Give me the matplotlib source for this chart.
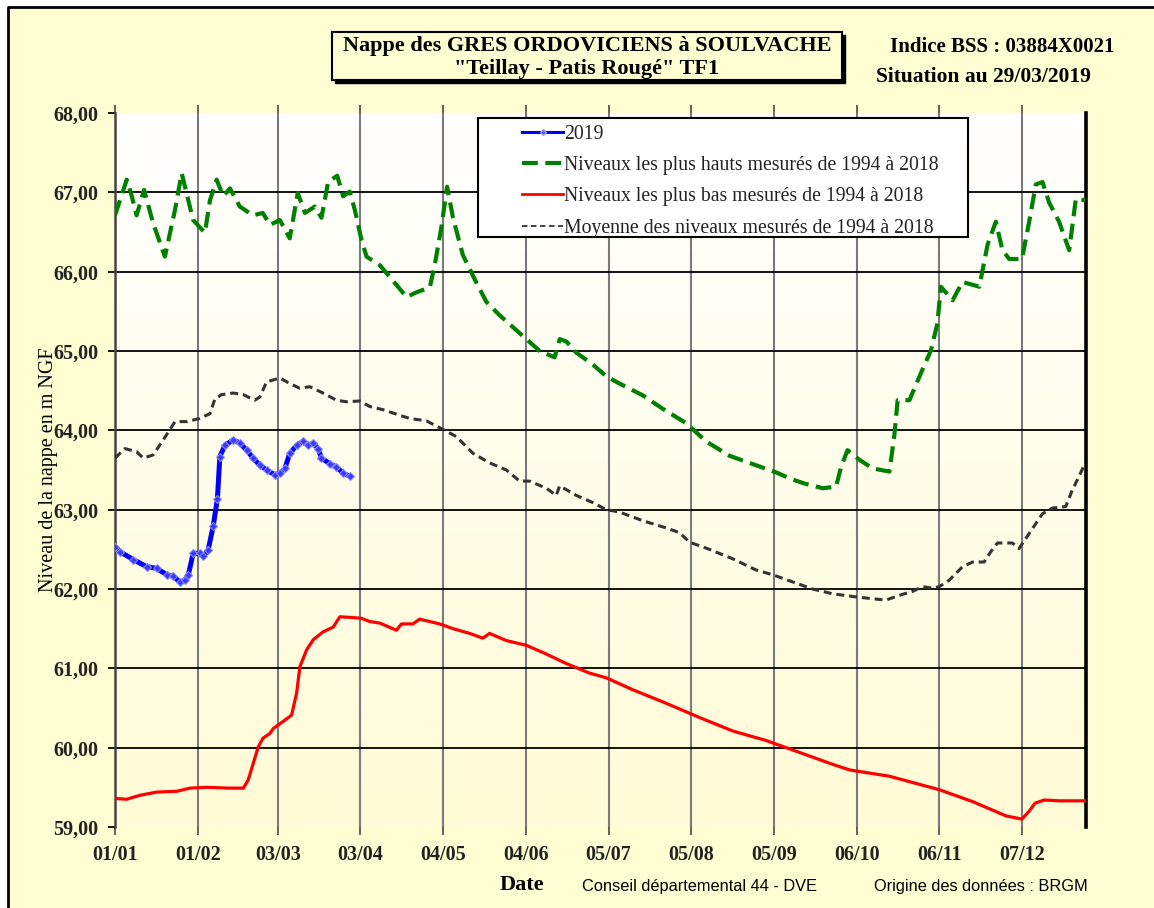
import numpy as np
import matplotlib.pyplot as plt
from matplotlib.patches import Rectangle
from matplotlib.colors import LinearSegmentedColormap
from matplotlib.lines import Line2D

# day of year (0 = 01/01) and groundwater level (m NGF)
green_day = [0.0, 4.4, 6.3, 8.1, 10.9, 14.3, 18.7, 22.5, 25.0, 29.3, 33.7, 35.6, 38.1, 40.6, 43.1,
             46.8, 51.7, 55.4, 58.1, 61.8, 65.5, 68.5, 71.2, 74.9, 77.4, 79.9, 83.3, 85.5, 88.0,
             89.9, 92.4, 94.3, 99.3, 104.1, 109.3, 113.0, 118.0, 119.9, 122.4, 124.5, 126.7,
             130.4, 135.5, 139.2, 144.2, 149.2, 154.2, 159.2, 164.8, 166.7, 169.2, 172.9, 179.1,
             184.2, 189.1, 197.9, 205.4, 214.1, 221.6, 230.3, 237.8, 247.8, 254.0, 258.4, 265.3,
             270.3, 272.2, 274.6, 279.0, 284.0, 290.3, 292.1, 293.4, 297.8, 302.1, 305.9, 308.3,
             309.6, 314.0, 317.7, 324.0, 327.1, 330.2, 332.7, 335.2, 340.0, 342.7, 345.2, 347.7,
             350.2, 353.9, 357.7, 360.2, 363.7]
green_val = [66.71, 67.16, 66.95, 66.71, 67.03, 66.61, 66.19, 66.78, 67.24, 66.65, 66.49, 66.90,
             67.16, 66.95, 67.05, 66.82, 66.71, 66.74, 66.59, 66.65, 66.42, 66.99, 66.74, 66.82,
             66.68, 67.13, 67.21, 66.95, 67.01, 66.78, 66.40, 66.19, 66.08, 65.89, 65.68, 65.74,
             65.80, 66.09, 66.57, 67.07, 66.68, 66.21, 65.86, 65.62, 65.45, 65.30, 65.15, 65.00,
             64.92, 65.15, 65.12, 64.98, 64.83, 64.68, 64.59, 64.44, 64.27, 64.09, 63.86, 63.68,
             63.59, 63.47, 63.38, 63.33, 63.27, 63.29, 63.54, 63.75, 63.63, 63.52, 63.48, 63.92,
             64.38, 64.38, 64.72, 65.01, 65.35, 65.81, 65.64, 65.87, 65.81, 66.34, 66.63, 66.27,
             66.16, 66.16, 66.63, 67.10, 67.13, 66.87, 66.63, 66.27, 66.92, 66.90]

mean_day = [0.0, 3.7, 8.1, 10.6, 14.3, 18.1, 22.5, 26.9, 31.8, 35.6, 37.5, 40.0, 44.3, 48.1, 52.4,
            54.3, 56.8, 61.8, 65.5, 69.3, 73.0, 78.0, 83.0, 86.8, 91.8, 95.5, 100.5, 106.7, 110.5,
            116.7, 123.6, 128.0, 134.2, 140.4, 146.7, 151.7, 155.4, 161.7, 165.4, 166.7, 172.9,
            179.1, 184.2, 189.1, 197.9, 206.6, 211.6, 215.4, 222.8, 231.6, 240.3, 246.5, 254.0,
            261.5, 269.0, 277.8, 283.4, 289.0, 294.0, 299.0, 302.7, 306.5, 309.0, 312.7, 317.7,
            321.5, 325.8, 328.3, 330.8, 336.4, 338.9, 342.7, 347.7, 351.4, 356.4, 358.9, 361.4, 363.3]
mean_val = [63.65, 63.77, 63.73, 63.65, 63.69, 63.88, 64.11, 64.11, 64.15, 64.21, 64.40, 64.45,
            64.47, 64.45, 64.38, 64.42, 64.61, 64.66, 64.59, 64.53, 64.55, 64.47, 64.38, 64.36,
            64.37, 64.30, 64.26, 64.19, 64.15, 64.12, 64.00, 63.92, 63.71, 63.59, 63.50, 63.36,
            63.36, 63.27, 63.18, 63.30, 63.18, 63.09, 63.00, 62.97, 62.86, 62.77, 62.71, 62.59,
            62.50, 62.38, 62.24, 62.18, 62.09, 62.00, 61.94, 61.90, 61.88, 61.86, 61.92, 61.97,
            62.03, 62.01, 62.03, 62.11, 62.28, 62.34, 62.34, 62.47, 62.58, 62.58, 62.51, 62.70,
            62.95, 63.02, 63.04, 63.25, 63.42, 63.56]

red_day = [0.0, 4.4, 9.4, 15.6, 23.1, 28.1, 34.3, 43.1, 48.1, 49.9, 51.8, 53.7, 55.5, 58.1, 59.3,
           63.0, 66.2, 68.1, 69.3, 71.8, 74.3, 78.0, 81.8, 84.3, 89.3, 92.4, 95.5, 99.3, 105.5,
           107.4, 111.7, 114.2, 121.7, 126.7, 133.0, 137.9, 140.4, 146.7, 154.2, 161.7, 169.2,
           177.9, 184.2, 194.1, 206.6, 219.1, 231.6, 244.1, 256.6, 269.0, 275.3, 290.3, 309.0,
           321.5, 334.0, 340.0, 342.7, 344.9, 348.3, 353.9, 363.7]
red_val = [59.36, 59.35, 59.40, 59.44, 59.45, 59.49, 59.50, 59.49, 59.49, 59.59, 59.80, 60.01,
           60.12, 60.18, 60.24, 60.33, 60.41, 60.69, 61.02, 61.23, 61.36, 61.46, 61.52, 61.65,
           61.64, 61.63, 61.59, 61.57, 61.48, 61.56, 61.56, 61.62, 61.56, 61.50, 61.44, 61.38,
           61.44, 61.35, 61.29, 61.18, 61.06, 60.94, 60.88, 60.73, 60.56, 60.38, 60.21, 60.09,
           59.94, 59.79, 59.72, 59.64, 59.47, 59.32, 59.14, 59.10, 59.20, 59.30, 59.34, 59.33, 59.33]

y2019_day = [0.0, 1.9, 6.9, 11.9, 15.6, 19.4, 21.8, 24.3, 26.2, 27.5, 29.3, 31.8, 33.1, 34.9,
             36.8, 38.4, 39.3, 41.2, 44.3, 46.8, 49.3, 51.8, 54.3, 56.8, 59.9, 61.8, 63.7, 65.5,
             68.1, 70.5, 72.4, 74.3, 76.1, 77.4, 80.5, 83.0, 85.5, 88.0]
y2019_val = [62.53, 62.47, 62.37, 62.28, 62.26, 62.18, 62.16, 62.09, 62.11, 62.18, 62.45, 62.45,
             62.41, 62.49, 62.79, 63.14, 63.67, 63.81, 63.88, 63.84, 63.75, 63.65, 63.56, 63.50,
             63.44, 63.46, 63.52, 63.71, 63.81, 63.86, 63.81, 63.84, 63.77, 63.65, 63.58, 63.54,
             63.46, 63.42]

x_tick_days = [0, 31, 61, 92, 123, 154, 185, 216, 247, 278, 309, 340]
x_tick_labels = ['01/01', '01/02', '03/03', '03/04', '04/05', '04/06', '05/07', '05/08',
                 '05/09', '06/10', '06/11', '07/12']
y_ticks = list(range(59, 69))
y_tick_labels = ['%d,00' % v for v in y_ticks]

legend_labels = ['2019',
                 'Niveaux les plus hauts mesurés de 1994 à 2018',
                 'Niveaux les plus bas mesurés de 1994 à 2018',
                 'Moyenne des niveaux mesurés de 1994 à 2018']

W, H = 1154, 908
SERIF = 'Liberation Serif'
BG = '#FFFDD2'

fig = plt.figure(figsize=(W / 100, H / 100), dpi=100, facecolor='white')

# outer yellow frame (only left and top edges are visible)
fig.add_artist(Rectangle((8 / W, 0), 1.0, 1 - 7 / H, transform=fig.transFigure,
                         facecolor=BG, edgecolor='none', zorder=-10))
fig.add_artist(Line2D([8 / W, 8 / W, 1.0], [0, 1 - 7 / H, 1 - 7 / H], transform=fig.transFigure,
                      color='black', lw=2, zorder=-9))

ax = fig.add_axes([115 / W, 1 - 827 / H, (1086 - 115) / W, (827 - 113) / H])
ax.set_facecolor('none')

# white -> pale yellow plot background
cmap = LinearSegmentedColormap.from_list('bg', ['#FFFFFF', '#FFFBD6'])
ax.imshow(np.linspace(0, 1, 256).reshape(-1, 1), extent=(0, 1, 0, 1), transform=ax.transAxes,
          aspect='auto', cmap=cmap, zorder=0)

ax.plot(red_day, red_val, color='#FF0000', lw=2.3, zorder=3)
ax.plot(mean_day, mean_val, color='#333333', lw=2.2, dashes=(2.6, 1.6), zorder=3)
ax.plot(green_day, green_val, color='#008000', lw=3.0, dashes=(3.8, 1.8), zorder=3)
ax.plot(y2019_day, y2019_val, color='#0000FF', lw=3.6, marker='D', ms=4.5,
        mfc='#3a3aff', mec='#8a8aff', mew=0.8, zorder=4)

ax.set_xlim(0, 364)
ax.set_ylim(59, 68)
ax.set_xticks(x_tick_days)
ax.set_xticklabels(x_tick_labels)
ax.set_yticks(y_ticks)
ax.set_yticklabels(y_tick_labels)
for lab in ax.get_xticklabels() + ax.get_yticklabels():
    lab.set_fontfamily(SERIF)
    lab.set_fontweight('bold')
    lab.set_fontsize(14.5)
    lab.set_color('#222222')

ax.grid(axis='y', color='black', lw=1.3, zorder=1)
ax.grid(axis='x', color='#7a7a7a', lw=1.5, zorder=1)
ygl = ax.get_ygridlines()
ygl[0].set_visible(False)
ygl[-1].set_visible(False)

ax.tick_params(axis='x', direction='out', length=6, width=1.3, color='#555555', pad=7, top=True)
ax.tick_params(axis='y', direction='out', length=5, width=1.3, color='black', pad=7)
ax.spines['top'].set_visible(False)
ax.spines['bottom'].set_visible(False)
ax.spines['left'].set_color('#444444')
ax.spines['left'].set_linewidth(1.8)
ax.spines['right'].set_color('black')
ax.spines['right'].set_linewidth(2.6)

ax.set_ylabel('Niveau de la nappe en m NGF', fontfamily=SERIF, fontsize=14.5)
ax.yaxis.set_label_coords(-0.059, 0.5)

# legend box
fig.add_artist(Rectangle((478 / W, 1 - 237 / H), 490 / W, 119 / H, transform=fig.transFigure,
                         facecolor='white', edgecolor='black', lw=1.5, zorder=5))
handles = [Line2D([], [], color='#0000FF', lw=2.2, marker='D', ms=3, mfc='#5a5aff', mec='#9a9aff'),
           Line2D([], [], color='#008000', lw=3.0, dashes=(3.8, 1.8)),
           Line2D([], [], color='#FF0000', lw=2.0),
           Line2D([], [], color='#333333', lw=1.3, dashes=(3, 2))]
leg = fig.legend(handles, legend_labels, loc='upper left', bbox_to_anchor=(510 / W, 1 - 113 / H),
                 frameon=False, prop={'family': SERIF, 'size': 14.2}, handlelength=2.1,
                 handletextpad=0.05, labelspacing=0.62, borderpad=0.1, numpoints=1)
leg.set_zorder(6)
for t in leg.get_texts():
    t.set_color('#222222')

# title box with drop shadow
fig.add_artist(Rectangle((335 / W, 1 - 83 / H), 510 / W, 48 / H, transform=fig.transFigure,
                         facecolor='black', edgecolor='black', lw=1, zorder=1))
fig.add_artist(Rectangle((332 / W, 1 - 80 / H), 510 / W, 48 / H, transform=fig.transFigure,
                         facecolor=BG, edgecolor='black', lw=1.5, zorder=2))
fig.text(587 / W, 1 - 46 / H, 'Nappe des GRES ORDOVICIENS à SOULVACHE', ha='center', va='center',
         fontfamily=SERIF, fontweight='bold', fontsize=16, zorder=3)
fig.text(587 / W, 1 - 69 / H, '"Teillay - Patis Rougé" TF1', ha='center', va='center',
         fontfamily=SERIF, fontweight='bold', fontsize=16, zorder=3)
fig.text(890 / W, 1 - 47 / H, 'Indice BSS : 03884X0021', ha='left', va='center',
         fontfamily=SERIF, fontweight='bold', fontsize=15)
fig.text(876 / W, 1 - 77 / H, 'Situation au 29/03/2019', ha='left', va='center',
         fontfamily=SERIF, fontweight='bold', fontsize=15.5)

fig.text(522 / W, 1 - 885 / H, 'Date', ha='center', va='center',
         fontfamily=SERIF, fontweight='bold', fontsize=16)
fig.text(582 / W, 1 - 887 / H, 'Conseil départemental 44 - DVE', ha='left', va='center',
         fontfamily='Liberation Sans', fontsize=11.8)
fig.text(874 / W, 1 - 887 / H, 'Origine des données : BRGM', ha='left', va='center',
         fontfamily='Liberation Sans', fontsize=11.8)

fig.savefig('out.png', dpi=100, facecolor=fig.get_facecolor())
